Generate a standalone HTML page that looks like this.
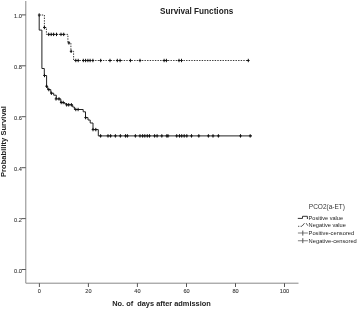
<!DOCTYPE html>
<html><head><meta charset="utf-8"><style>
html,body{margin:0;padding:0;background:#fff;}
svg{display:block;filter:blur(0.35px);}
text{font-family:"Liberation Sans",sans-serif;}
</style></head><body>
<svg width="358" height="309" viewBox="0 0 358 309">
<rect width="358" height="309" fill="#fff"/>
<text x="160" y="14.2" font-weight="bold" font-size="8.7" fill="#222" textLength="73.2" lengthAdjust="spacingAndGlyphs">Survival Functions</text>
<text transform="translate(6.0,141.5) rotate(-90)" text-anchor="middle" font-weight="bold" font-size="7.6" fill="#222">Probability Survival</text>
<text x="161.5" y="306.2" text-anchor="middle" font-weight="bold" font-size="7.4" fill="#222" xml:space="preserve">No. of  days after admission</text>
<path d="M25.8,1 V283.2 H298.5" fill="none" stroke="#888" stroke-width="1"/>
<path d="M21.5,269.5H25.8M21.5,218.6H25.8M21.5,167.7H25.8M21.5,116.7H25.8M21.5,65.8H25.8M21.5,14.9H25.8M39.4,283.2V287M88.4,283.2V287M137.4,283.2V287M186.5,283.2V287M235.5,283.2V287M284.5,283.2V287" fill="none" stroke="#555" stroke-width="1"/>
<g font-size="5.6" fill="#333" stroke="#333" stroke-width="0.08"><text x="21.9" y="272.5" text-anchor="end">0.0</text><text x="21.9" y="221.6" text-anchor="end">0.2</text><text x="21.9" y="170.7" text-anchor="end">0.4</text><text x="21.9" y="119.7" text-anchor="end">0.6</text><text x="21.9" y="68.8" text-anchor="end">0.8</text><text x="21.9" y="17.9" text-anchor="end">1.0</text><text x="39.4" y="292.5" text-anchor="middle">0</text><text x="88.4" y="292.5" text-anchor="middle">20</text><text x="137.4" y="292.5" text-anchor="middle">40</text><text x="186.5" y="292.5" text-anchor="middle">60</text><text x="235.5" y="292.5" text-anchor="middle">80</text><text x="284.5" y="292.5" text-anchor="middle">100</text></g>
<path d="M39.2,15.0 V30.1 H41.9 V68.5 H44.3 V75.5 H46.6 V86.2 H47.7 V89.6 H50.8 V93.2 H53.7 V95.2 H56.3 V98.9 H60.8 V102.5 H64.7 V103.8 H66.7 V104.8 H72.7 V107.0 H74.4 V109.5 H83.2 V111.8 H85.5 V117.6 H88.0 V120.0 H90.2 V123.0 H93.0 V129.6 H98.3 V135.9 H252.0" fill="none" stroke="#222" stroke-width="1"/>
<path d="M39.2,13.3V16.7M37.9,15.0H40.5M44.5,73.8V77.2M43.2,75.5H45.8M46.5,84.5V87.9M45.2,86.2H47.8M48.8,87.9V91.3M47.5,89.6H50.1M51.4,91.5V94.9M50.1,93.2H52.7M56.0,97.2V100.6M54.7,98.9H57.3M59.0,97.2V100.6M57.7,98.9H60.3M61.2,100.8V104.2M59.9,102.5H62.5M63.2,100.8V104.2M61.9,102.5H64.5M66.6,103.1V106.5M65.3,104.8H67.9M68.7,103.1V106.5M67.4,104.8H70.0M71.4,103.1V106.5M70.1,104.8H72.7M75.8,107.8V111.2M74.5,109.5H77.1M78.1,107.8V111.2M76.8,109.5H79.4M85.6,115.9V119.3M84.3,117.6H86.9M93.0,127.9V131.3M91.7,129.6H94.3M95.8,127.9V131.3M94.5,129.6H97.1M100.6,134.2V137.6M99.3,135.9H101.9M108.0,134.2V137.6M106.7,135.9H109.3M110.6,134.2V137.6M109.3,135.9H111.9M115.4,134.2V137.6M114.1,135.9H116.7M120.4,134.2V137.6M119.1,135.9H121.7M125.5,134.2V137.6M124.2,135.9H126.8M127.4,134.2V137.6M126.1,135.9H128.7M135.4,134.2V137.6M134.1,135.9H136.7M140.0,134.2V137.6M138.7,135.9H141.3M142.6,134.2V137.6M141.3,135.9H143.9M144.8,134.2V137.6M143.5,135.9H146.1M147.3,134.2V137.6M146.0,135.9H148.6M149.5,134.2V137.6M148.2,135.9H150.8M154.6,134.2V137.6M153.3,135.9H155.9M157.1,134.2V137.6M155.8,135.9H158.4M161.8,134.2V137.6M160.5,135.9H163.1M166.8,134.2V137.6M165.5,135.9H168.1M168.0,134.2V137.6M166.7,135.9H169.3M176.7,134.2V137.6M175.4,135.9H178.0M179.5,134.2V137.6M178.2,135.9H180.8M181.7,134.2V137.6M180.4,135.9H183.0M184.2,134.2V137.6M182.9,135.9H185.5M186.8,134.2V137.6M185.5,135.9H188.1M191.5,134.2V137.6M190.2,135.9H192.8M198.8,134.2V137.6M197.5,135.9H200.1M208.4,134.2V137.6M207.1,135.9H209.7M213.0,134.2V137.6M211.7,135.9H214.3M218.4,134.2V137.6M217.1,135.9H219.7M240.5,134.2V137.6M239.2,135.9H241.8M250.2,134.2V137.6M248.9,135.9H251.5" fill="none" stroke="#111" stroke-width="1"/>
<path d="M39.2,15.0 H44.4 V27.5 H46.4 V34.4 H67.9 V42.9 H70.9 V51.3 H73.6 V60.5 H249.0" fill="none" stroke="#3a3a3a" stroke-width="1" stroke-dasharray="1.4,1.2"/>
<path d="M44.4,25.8V29.2M43.1,27.5H45.7M48.7,32.7V36.1M47.4,34.4H50.0M51.2,32.7V36.1M49.9,34.4H52.5M53.6,32.7V36.1M52.3,34.4H54.9M56.5,32.7V36.1M55.2,34.4H57.8M61.0,32.7V36.1M59.7,34.4H62.3M63.7,32.7V36.1M62.4,34.4H65.0M68.9,41.2V44.6M67.6,42.9H70.2M71.1,49.6V53.0M69.8,51.3H72.4M75.8,58.8V62.2M74.5,60.5H77.1M78.2,58.8V62.2M76.9,60.5H79.5M83.3,58.8V62.2M82.0,60.5H84.6M85.6,58.8V62.2M84.3,60.5H86.9M87.9,58.8V62.2M86.6,60.5H89.2M90.1,58.8V62.2M88.8,60.5H91.4M92.9,58.8V62.2M91.6,60.5H94.2M100.7,58.8V62.2M99.4,60.5H102.0M110.0,58.8V62.2M108.7,60.5H111.3M117.3,58.8V62.2M116.0,60.5H118.6M120.1,58.8V62.2M118.8,60.5H121.4M130.4,58.8V62.2M129.1,60.5H131.7M140.0,58.8V62.2M138.7,60.5H141.3M164.1,58.8V62.2M162.8,60.5H165.4M166.4,58.8V62.2M165.1,60.5H167.7M179.0,58.8V62.2M177.7,60.5H180.3M181.5,58.8V62.2M180.2,60.5H182.8M248.3,58.8V62.2M247.0,60.5H249.6" fill="none" stroke="#111" stroke-width="1"/>
<g font-size="6.9" fill="#333">
<text x="308.8" y="208.8" textLength="36.2" lengthAdjust="spacingAndGlyphs">PCO2(a-ET)</text>
</g>
<g font-size="5.9" fill="#222">
<text x="308.6" y="219.7" textLength="34.4" lengthAdjust="spacingAndGlyphs">Positive value</text>
<text x="308.6" y="227.2" textLength="37.3" lengthAdjust="spacingAndGlyphs">Negative value</text>
<text x="308.6" y="235.1" textLength="45.6" lengthAdjust="spacingAndGlyphs">Positive-censored</text>
<text x="308.6" y="243.0" textLength="48.2" lengthAdjust="spacingAndGlyphs">Negative-censored</text>
</g>
<path d="M297.8,218.4H302.5V216.3H307.4V219" fill="none" stroke="#333" stroke-width="1"/>
<path d="M298,226.3H299.3M300.6,226.3H302M302.2,226L304.5,223.2M306.2,223.2L307.8,225.7" fill="none" stroke="#555" stroke-width="1"/>
<path d="M297.9,233H307.9M297.9,240.7H307.9" fill="none" stroke="#808080" stroke-width="1.1"/>
<path d="M302.8,230.6V235.6M302.8,238.2V243.1" fill="none" stroke="#555" stroke-width="1"/>
</svg>
</body></html>
